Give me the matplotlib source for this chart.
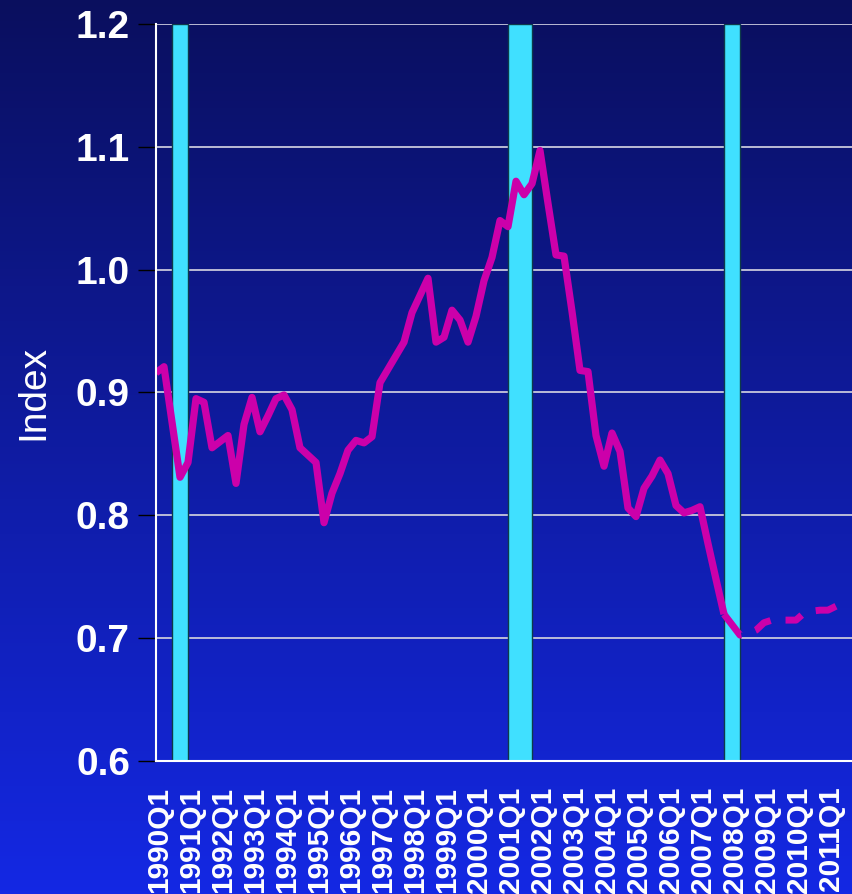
import numpy as np
import matplotlib
matplotlib.use('Agg')
import matplotlib.pyplot as plt
import matplotlib.transforms as mtransforms
from matplotlib.colors import LinearSegmentedColormap

plt.rcParams['font.family'] = ['Liberation Sans', 'DejaVu Sans']
plt.rcParams['lines.scale_dashes'] = False

# ---------------- data ----------------
tick_labels = ['1990Q1', '1991Q1', '1992Q1', '1993Q1', '1994Q1', '1995Q1',
               '1996Q1', '1997Q1', '1998Q1', '1999Q1', '2000Q1', '2001Q1',
               '2002Q1', '2003Q1', '2004Q1', '2005Q1', '2006Q1', '2007Q1',
               '2008Q1', '2009Q1', '2010Q1', '2011Q1']
n_quarters = 88  # 1990Q1 .. 2011Q4

# quarterly index, 1990Q1 onward (actual)
actual = [0.916, 0.921, 0.876, 0.831, 0.843, 0.895, 0.892, 0.855, 0.860, 0.865,
          0.826, 0.874, 0.896, 0.868, 0.881, 0.895, 0.898, 0.886, 0.855, 0.849,
          0.843, 0.794, 0.818, 0.834, 0.853, 0.861, 0.859, 0.864, 0.908, 0.919,
          0.930, 0.941, 0.965, 0.979, 0.993, 0.941, 0.945, 0.967, 0.959, 0.941,
          0.962, 0.991, 1.010, 1.040, 1.035, 1.072, 1.061, 1.070, 1.097, 1.054,
          1.012, 1.011, 0.966, 0.918, 0.917, 0.865, 0.840, 0.867, 0.852, 0.806,
          0.799, 0.822, 0.832, 0.845, 0.834, 0.808, 0.802, 0.804, 0.807, 0.777,
          0.748, 0.7195]

# forecast, starting at quarter index 71 (2007Q4)
forecast_start = 71
forecast = [0.7195, 0.711, 0.7025, 0.7035, 0.7065, 0.7126, 0.7147, 0.7147,
            0.7147, 0.7147, 0.7204, 0.722, 0.7228, 0.7228, 0.726]

# recession shading, in quarter-index units
recession_start = [2.05, 44.0, 71.05]
recession_end = [3.95, 46.95, 72.95]

yticks = [0.6, 0.7, 0.8, 0.9, 1.0, 1.1, 1.2]
ytick_labels = ['0.6', '0.7', '0.8', '0.9', '1.0', '1.1', '1.2']

# ---------------- figure ----------------
W, H = 852, 894
fig = plt.figure(figsize=(W / 100, H / 100), dpi=100)

bg = fig.add_axes([0, 0, 1, 1], zorder=-10)
grad = np.linspace(0, 1, 256).reshape(-1, 1)
cmap = LinearSegmentedColormap.from_list('bg', ['#0a0f5e', '#1428e4'])
bg.imshow(grad, aspect='auto', cmap=cmap, extent=[0, 1, 0, 1], origin='upper')
bg.set_axis_off()

ax = fig.add_axes([156 / W, (H - 761) / H, (W - 156) / W, 737 / H])
ax.set_facecolor('none')
ax.set_xlim(0, n_quarters - 1)
ax.set_ylim(0.6, 1.2)

for y in yticks[1:]:
    ax.axhline(y, color='#c8c8dc', lw=1.3, zorder=1)

for s, e in zip(recession_start, recession_end):
    ax.axvspan(s, e, facecolor='#40e0ff', edgecolor='#0d3a4a', lw=1, zorder=2)

x_act = np.arange(len(actual))
ax.plot(x_act, actual, color='#cc00aa', lw=5.2, solid_joinstyle='round',
        solid_capstyle='butt', zorder=4)

x_fc = np.arange(forecast_start, forecast_start + len(forecast))
ax.plot(x_fc, forecast, color='#cc00aa', lw=5.0, dash_capstyle='butt',
        dashes=[19.9, 10.8, 13.3, 10.8, 13.0, 10.8, 21.6, 10.8], zorder=4)

for sp in ['top', 'right']:
    ax.spines[sp].set_visible(False)
for sp in ['left', 'bottom']:
    ax.spines[sp].set_color('white')
    ax.spines[sp].set_linewidth(1.5)
    ax.spines[sp].set_zorder(5)

ax.set_yticks(yticks)
ax.set_yticklabels(ytick_labels, fontsize=28, fontweight='bold', color='white')
ax.tick_params(axis='y', direction='out', length=13, width=1, color='black', pad=5.8)

ax.set_xticks(np.arange(0, 4 * len(tick_labels), 4))
ax.set_xticklabels(tick_labels, rotation=90, fontsize=21.5, fontweight='bold',
                   color='white', va='top', ha='center')
ax.tick_params(axis='x', length=0, pad=18.5)
shift = mtransforms.ScaledTranslation(3 / 100, 0, fig.dpi_scale_trans)
for lab in ax.get_xticklabels():
    lab.set_transform(lab.get_transform() + shift)

fig.text(33 / W, 1 - 392 / H, 'Index', rotation=90, fontsize=28, color='white',
         ha='center', va='center')

fig.savefig('out.png', dpi=100)
